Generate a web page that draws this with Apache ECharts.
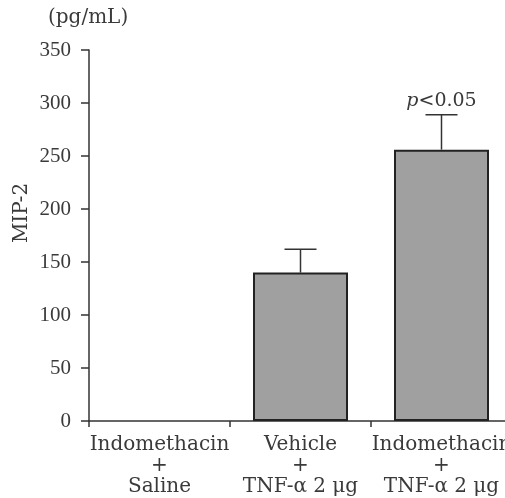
<!DOCTYPE html>
<html><head><meta charset="utf-8">
<script src="https://cdn.jsdelivr.net/npm/echarts@6/dist/echarts.min.js"></script>
<style>html,body{margin:0;padding:0;background:#fff;overflow:hidden}#c{width:530px;height:498px}</style>
</head><body><div id="c"></div>
<script>
const categories = ['Indomethacin\n+\nSaline', 'Vehicle\n+\nTNF-α 2 μg', 'Indomethacin\n+\nTNF-α 2 μg'];
const means = [0, 140, 256];
const errors = [0, 22, 33];
const annotations = ['', '', 'p<0.05'];
const yTicks = { min: 0, max: 350, interval: 50 };

const chart = echarts.init(document.getElementById('c'), null, { renderer: 'canvas' });
const ink = '#333';
const serif = '"DejaVu Serif", "Liberation Serif", serif';
const errData = means.map((m, i) => [i, m, m + errors[i]]);

chart.setOption({
  animation: false,
  grid: { left: 89, width: 423, top: 50, bottom: 77, containLabel: false },
  xAxis: {
    type: 'category', data: categories,
    axisLine: { lineStyle: { color: ink, width: 1.5 } },
    axisTick: { show: true, length: 6, lineStyle: { color: ink, width: 1.5 } },
    axisLabel: { color: '#3a3a3a', fontFamily: serif, fontSize: 20, lineHeight: 21, margin: 13, interval: 0 }
  },
  yAxis: {
    type: 'value', min: yTicks.min, max: yTicks.max, interval: yTicks.interval,
    axisLine: { show: true, lineStyle: { color: ink, width: 1.5 } },
    axisTick: { show: true, length: 8, lineStyle: { color: ink, width: 1.5 } },
    axisLabel: { color: '#3a3a3a', fontFamily: '"Liberation Serif", serif', fontSize: 21, margin: 18 },
    splitLine: { show: false }
  },
  graphic: [
    { type: 'text', left: 48, top: 8, style: { text: '(pg/mL)', fontFamily: serif, fontSize: 20, fill: '#3a3a3a' } },
    { type: 'text', x: 22, y: 213, rotation: Math.PI / 2,
      style: { text: 'MIP-2', fontFamily: serif, fontSize: 20, fill: '#3a3a3a', align: 'center', verticalAlign: 'middle' } }
  ],
  series: [
    {
      type: 'bar', data: means.map(v => (v === 0 ? '-' : v)), barWidth: 95,
      itemStyle: { color: '#a0a0a0', borderColor: '#222', borderWidth: 2 },
      z: 2
    },
    {
      type: 'custom', data: errData, z: 3,
      renderItem: function (params, api) {
        const x = api.coord([api.value(0), 0])[0];
        const yLow = api.coord([0, api.value(1)])[1];
        const yHigh = api.coord([0, api.value(2)])[1];
        const children = [];
        if (api.value(2) > api.value(1)) {
          children.push({ type: 'line', shape: { x1: x, y1: yLow, x2: x, y2: yHigh }, style: { stroke: ink, lineWidth: 1.5 } });
          children.push({ type: 'line', shape: { x1: x - 16, y1: yHigh, x2: x + 16, y2: yHigh }, style: { stroke: ink, lineWidth: 1.5 } });
        }
        const note = annotations[params.dataIndex];
        if (note) {
          const rest = note.slice(1);
          children.push({ type: 'text', x: x, y: yHigh - 4,
            style: { text: '{i|' + note[0] + '}{n|' + rest + '}', align: 'center', verticalAlign: 'bottom',
              rich: { i: { fontFamily: serif, fontStyle: 'italic', fontSize: 19, fill: '#3a3a3a' },
                      n: { fontFamily: serif, fontSize: 19, fill: '#3a3a3a' } } } });
        }
        return { type: 'group', children: children };
      }
    }
  ]
});
</script></body></html>
